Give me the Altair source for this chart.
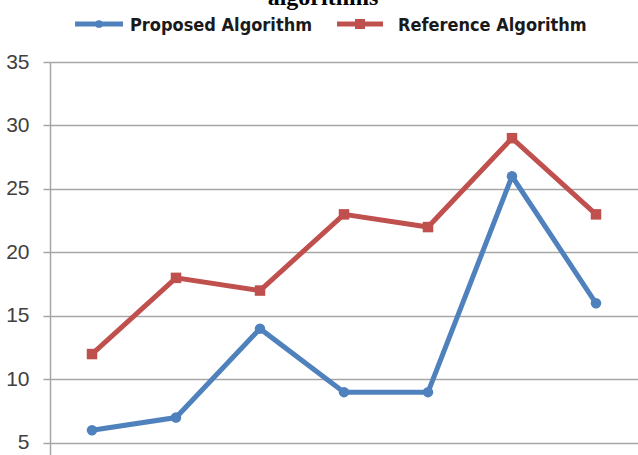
import altair as alt
import pandas as pd

categories = ["1", "2", "3", "4", "5", "6", "7"]
proposed = [6, 7, 14, 9, 9, 26, 16]
reference = [12, 18, 17, 23, 22, 29, 23]
series_names = ["Proposed Algorithm", "Reference Algorithm"]
series_colors = ["#4F81BD", "#C0504D"]
series_shapes = ["circle", "square"]
y_ticks = [5, 10, 15, 20, 25, 30, 35]
title_text = "algorithms"

rows = []
for c, v in zip(categories, proposed):
    rows.append({"cat": c, "value": v, "series": series_names[0]})
for c, v in zip(categories, reference):
    rows.append({"cat": c, "value": v, "series": series_names[1]})
df = pd.DataFrame(rows)

FONT = "'DejaVu Sans Condensed', 'Liberation Sans', sans-serif"
AXFONT = "'Liberation Sans', sans-serif"

x = alt.X("cat:N", sort=categories, axis=None,
          scale=alt.Scale(type="point", padding=0.5))
y = alt.Y("value:Q",
          scale=alt.Scale(domain=[4.05, 35], nice=False, zero=False),
          axis=alt.Axis(values=y_ticks, title=None, grid=True,
                        gridColor="#A6A6A6", gridWidth=1.5,
                        domainColor="#A6A6A6", domainWidth=1.5,
                        tickColor="#A6A6A6", tickSize=7, tickWidth=1.5,
                        labelFont=AXFONT, labelFontSize=21, labelColor="#404040",
                        labelPadding=14))
color = alt.Color("series:N", scale=alt.Scale(domain=series_names, range=series_colors),
                  legend=None)
shape = alt.Shape("series:N", scale=alt.Scale(domain=series_names, range=series_shapes),
                  legend=None)

base = alt.Chart(df)
lines = base.mark_line(strokeWidth=5).encode(x=x, y=y, color=color, detail="series:N")
points = base.mark_point(filled=True, size=110, opacity=1).encode(x=x, y=y, color=color, shape=shape)

one = alt.Chart(pd.DataFrame({"a": [0]}))
leg = []
# Proposed legend entry
leg.append(one.mark_rule(color=series_colors[0], strokeWidth=5).encode(
    x=alt.value(25), x2=alt.value(73), y=alt.value(-38)))
leg.append(one.mark_point(shape="circle", filled=True, size=60, opacity=1,
                          color=series_colors[0]).encode(x=alt.value(49), y=alt.value(-38)))
leg.append(one.mark_text(text=series_names[0], align="left", baseline="alphabetic",
                         font=FONT, fontSize=18, fontWeight="bold", color="#1a1a1a").encode(
    x=alt.value(80), y=alt.value(-31)))
# Reference legend entry
leg.append(one.mark_rule(color=series_colors[1], strokeWidth=5).encode(
    x=alt.value(287), x2=alt.value(333), y=alt.value(-38)))
leg.append(one.mark_point(shape="square", filled=True, size=100, opacity=1,
                          color=series_colors[1]).encode(x=alt.value(310), y=alt.value(-38)))
leg.append(one.mark_text(text=series_names[1], align="left", baseline="alphabetic",
                         font=FONT, fontSize=18, fontWeight="bold", color="#1a1a1a").encode(
    x=alt.value(348), y=alt.value(-31)))
# cut-off title
leg.append(one.mark_text(text=title_text, align="center", baseline="alphabetic",
                         font="Liberation Serif", fontSize=24, fontWeight="bold",
                         color="#000000").encode(x=alt.value(273), y=alt.value(-57)))

chart = alt.layer(lines, points, *leg).properties(
    width=588, height=393,
    autosize=alt.AutoSizeParams(type="none"),
    padding={"left": 50, "top": 62, "right": 0, "bottom": 0},
).configure_view(stroke=None).configure(background="white")

chart.save("out.html", embed_options={"renderer": "svg", "actions": False})
